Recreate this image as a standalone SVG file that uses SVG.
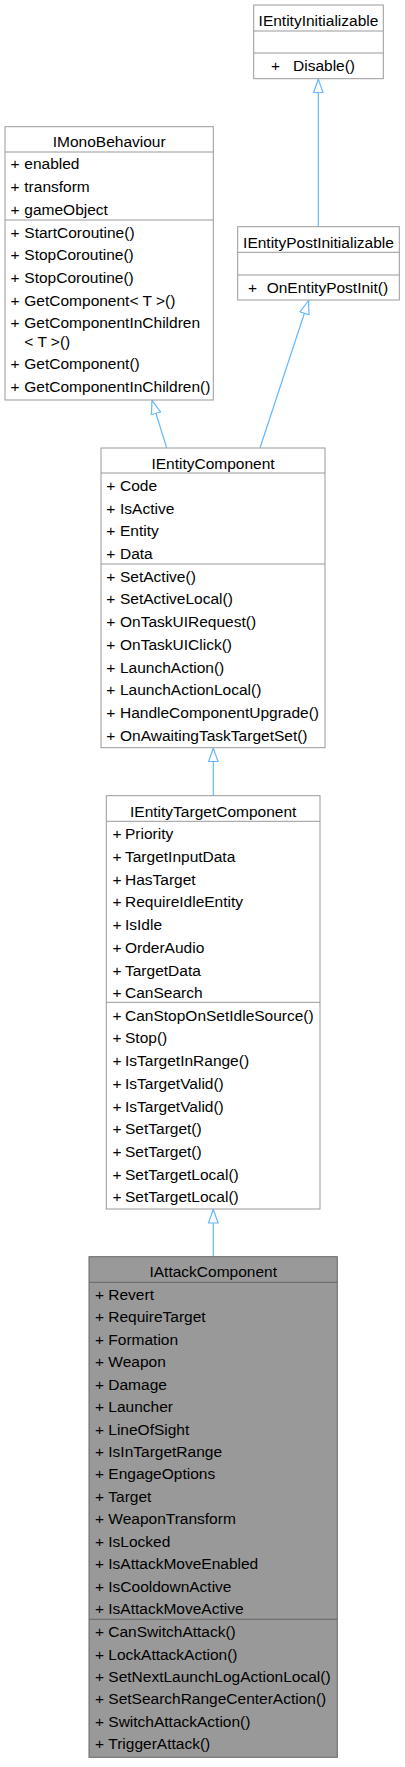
<svg xmlns="http://www.w3.org/2000/svg" width="405" height="1767" viewBox="0 0 405 1767">
<style>
text{font-family:"Liberation Sans",Arial,sans-serif;font-size:15.5px;fill:#000}
.t{text-anchor:middle}
.box{fill:#fff;stroke:#999;stroke-width:1}
.boxh{fill:#999;stroke:#666;stroke-width:1}
.sep{stroke:#999;stroke-width:1}
.seph{stroke:#666;stroke-width:1}
.edge{stroke:#63b8ff;stroke-width:1.2;fill:none}
</style>
<defs>
<marker id="inh" markerUnits="userSpaceOnUse" markerWidth="16" markerHeight="12" viewBox="-14 -6 16 12" refX="0" refY="0" orient="auto">
<path d="M0,0 L-13.5,-4.8 L-13.5,4.8 Z" fill="#fff" stroke="#63b8ff" stroke-width="1.2"/>
</marker>
</defs>
<rect width="405" height="1767" fill="#fff"/>
<g id="connectors">
<line class="edge" x1="318.3" y1="226.7" x2="318.3" y2="79.2" marker-end="url(#inh)"/>
<line class="edge" x1="166.7" y1="448" x2="152" y2="400.5" marker-end="url(#inh)"/>
<line class="edge" x1="260" y1="448" x2="308.6" y2="300.5" marker-end="url(#inh)"/>
<line class="edge" x1="213.3" y1="795.7" x2="213.3" y2="748.2" marker-end="url(#inh)"/>
<line class="edge" x1="213.3" y1="1256.7" x2="213.3" y2="1209.5" marker-end="url(#inh)"/>
</g>
<g id="IEntityInitializable">
<rect class="box" x="253.7" y="5" width="129.6" height="73.7"/>
<line class="sep" x1="253.7" y1="31" x2="383.3" y2="31"/>
<line class="sep" x1="253.7" y1="53" x2="383.3" y2="53"/>
<text class="t" x="318.5" y="26">IEntityInitializable</text>
<text y="70.7"><tspan x="271">+</tspan><tspan x="293">Disable()</tspan></text>
</g>
<g id="IMonoBehaviour">
<rect class="box" x="5" y="126.7" width="208.3" height="273.3"/>
<line class="sep" x1="5" y1="152" x2="213.3" y2="152"/>
<line class="sep" x1="5" y1="220" x2="213.3" y2="220"/>
<text class="t" x="109.2" y="147">IMonoBehaviour</text>
<text y="169.3"><tspan x="10.5">+</tspan><tspan x="24.3">enabled</tspan></text>
<text y="191.9"><tspan x="10.5">+</tspan><tspan x="24.3">transform</tspan></text>
<text y="214.5"><tspan x="10.5">+</tspan><tspan x="24.3">gameObject</tspan></text>
<text y="237.7"><tspan x="10.5">+</tspan><tspan x="24.3">StartCoroutine()</tspan></text>
<text y="260.3"><tspan x="10.5">+</tspan><tspan x="24.3">StopCoroutine()</tspan></text>
<text y="282.9"><tspan x="10.5">+</tspan><tspan x="24.3">StopCoroutine()</tspan></text>
<text y="305.5"><tspan x="10.5">+</tspan><tspan x="24.3">GetComponent&lt; T &gt;()</tspan></text>
<text y="328.1"><tspan x="10.5">+</tspan><tspan x="24.3">GetComponentInChildren</tspan></text>
<text x="24.3" y="346.7">&lt; T &gt;()</text>
<text y="369.3"><tspan x="10.5">+</tspan><tspan x="24.3">GetComponent()</tspan></text>
<text y="392"><tspan x="10.5">+</tspan><tspan x="24.3">GetComponentInChildren()</tspan></text>
</g>
<g id="IEntityPostInitializable">
<rect class="box" x="237.7" y="226.7" width="161.6" height="73.3"/>
<line class="sep" x1="237.7" y1="252.3" x2="399.3" y2="252.3"/>
<line class="sep" x1="237.7" y1="275" x2="399.3" y2="275"/>
<text class="t" x="318.5" y="247.7">IEntityPostInitializable</text>
<text y="293"><tspan x="248">+</tspan><tspan x="266.7">OnEntityPostInit()</tspan></text>
</g>
<g id="IEntityComponent">
<rect class="box" x="101" y="448" width="224" height="299.7"/>
<line class="sep" x1="101" y1="473" x2="325" y2="473"/>
<line class="sep" x1="101" y1="564" x2="325" y2="564"/>
<text class="t" x="213" y="468.7">IEntityComponent</text>
<text y="491"><tspan x="106.3">+</tspan><tspan x="120">Code</tspan></text>
<text y="513.7"><tspan x="106.3">+</tspan><tspan x="120">IsActive</tspan></text>
<text y="536.4"><tspan x="106.3">+</tspan><tspan x="120">Entity</tspan></text>
<text y="559"><tspan x="106.3">+</tspan><tspan x="120">Data</tspan></text>
<text y="581.7"><tspan x="106.3">+</tspan><tspan x="120">SetActive()</tspan></text>
<text y="604.4"><tspan x="106.3">+</tspan><tspan x="120">SetActiveLocal()</tspan></text>
<text y="627.1"><tspan x="106.3">+</tspan><tspan x="120">OnTaskUIRequest()</tspan></text>
<text y="649.8"><tspan x="106.3">+</tspan><tspan x="120">OnTaskUIClick()</tspan></text>
<text y="672.5"><tspan x="106.3">+</tspan><tspan x="120">LaunchAction()</tspan></text>
<text y="695.2"><tspan x="106.3">+</tspan><tspan x="120">LaunchActionLocal()</tspan></text>
<text y="717.9"><tspan x="106.3">+</tspan><tspan x="120">HandleComponentUpgrade()</tspan></text>
<text y="740.6"><tspan x="106.3">+</tspan><tspan x="120">OnAwaitingTaskTargetSet()</tspan></text>
</g>
<g id="IEntityTargetComponent">
<rect class="box" x="106.3" y="795.7" width="213.7" height="413.3"/>
<line class="sep" x1="106.3" y1="821.3" x2="320" y2="821.3"/>
<line class="sep" x1="106.3" y1="1002.3" x2="320" y2="1002.3"/>
<text class="t" x="213.2" y="816.7">IEntityTargetComponent</text>
<text y="839.3"><tspan x="112.5">+</tspan><tspan x="125">Priority</tspan></text>
<text y="862"><tspan x="112.5">+</tspan><tspan x="125">TargetInputData</tspan></text>
<text y="884.7"><tspan x="112.5">+</tspan><tspan x="125">HasTarget</tspan></text>
<text y="907.4"><tspan x="112.5">+</tspan><tspan x="125">RequireIdleEntity</tspan></text>
<text y="930.1"><tspan x="112.5">+</tspan><tspan x="125">IsIdle</tspan></text>
<text y="952.8"><tspan x="112.5">+</tspan><tspan x="125">OrderAudio</tspan></text>
<text y="975.5"><tspan x="112.5">+</tspan><tspan x="125">TargetData</tspan></text>
<text y="998.3"><tspan x="112.5">+</tspan><tspan x="125">CanSearch</tspan></text>
<text y="1020.7"><tspan x="112.5">+</tspan><tspan x="125">CanStopOnSetIdleSource()</tspan></text>
<text y="1043.4"><tspan x="112.5">+</tspan><tspan x="125">Stop()</tspan></text>
<text y="1066.1"><tspan x="112.5">+</tspan><tspan x="125">IsTargetInRange()</tspan></text>
<text y="1088.8"><tspan x="112.5">+</tspan><tspan x="125">IsTargetValid()</tspan></text>
<text y="1111.5"><tspan x="112.5">+</tspan><tspan x="125">IsTargetValid()</tspan></text>
<text y="1134.2"><tspan x="112.5">+</tspan><tspan x="125">SetTarget()</tspan></text>
<text y="1156.9"><tspan x="112.5">+</tspan><tspan x="125">SetTarget()</tspan></text>
<text y="1179.6"><tspan x="112.5">+</tspan><tspan x="125">SetTargetLocal()</tspan></text>
<text y="1202.3"><tspan x="112.5">+</tspan><tspan x="125">SetTargetLocal()</tspan></text>
</g>
<g id="IAttackComponent">
<rect class="boxh" x="89" y="1256.7" width="248.3" height="500.6"/>
<line class="seph" x1="89" y1="1282.3" x2="337.3" y2="1282.3"/>
<line class="seph" x1="89" y1="1619.3" x2="337.3" y2="1619.3"/>
<text class="t" x="213.2" y="1276.7">IAttackComponent</text>
<text y="1300"><tspan x="95">+</tspan><tspan x="108.3">Revert</tspan></text>
<text y="1322.4"><tspan x="95">+</tspan><tspan x="108.3">RequireTarget</tspan></text>
<text y="1344.9"><tspan x="95">+</tspan><tspan x="108.3">Formation</tspan></text>
<text y="1367.3"><tspan x="95">+</tspan><tspan x="108.3">Weapon</tspan></text>
<text y="1389.7"><tspan x="95">+</tspan><tspan x="108.3">Damage</tspan></text>
<text y="1412.2"><tspan x="95">+</tspan><tspan x="108.3">Launcher</tspan></text>
<text y="1434.6"><tspan x="95">+</tspan><tspan x="108.3">LineOfSight</tspan></text>
<text y="1457"><tspan x="95">+</tspan><tspan x="108.3">IsInTargetRange</tspan></text>
<text y="1479.4"><tspan x="95">+</tspan><tspan x="108.3">EngageOptions</tspan></text>
<text y="1501.9"><tspan x="95">+</tspan><tspan x="108.3">Target</tspan></text>
<text y="1524.3"><tspan x="95">+</tspan><tspan x="108.3">WeaponTransform</tspan></text>
<text y="1546.7"><tspan x="95">+</tspan><tspan x="108.3">IsLocked</tspan></text>
<text y="1569.2"><tspan x="95">+</tspan><tspan x="108.3">IsAttackMoveEnabled</tspan></text>
<text y="1591.6"><tspan x="95">+</tspan><tspan x="108.3">IsCooldownActive</tspan></text>
<text y="1614"><tspan x="95">+</tspan><tspan x="108.3">IsAttackMoveActive</tspan></text>
<text y="1637.3"><tspan x="95">+</tspan><tspan x="108.3">CanSwitchAttack()</tspan></text>
<text y="1659.6"><tspan x="95">+</tspan><tspan x="108.3">LockAttackAction()</tspan></text>
<text y="1682"><tspan x="95">+</tspan><tspan x="108.3">SetNextLaunchLogActionLocal()</tspan></text>
<text y="1704.3"><tspan x="95">+</tspan><tspan x="108.3">SetSearchRangeCenterAction()</tspan></text>
<text y="1726.7"><tspan x="95">+</tspan><tspan x="108.3">SwitchAttackAction()</tspan></text>
<text y="1749"><tspan x="95">+</tspan><tspan x="108.3">TriggerAttack()</tspan></text>
</g>
</svg>
